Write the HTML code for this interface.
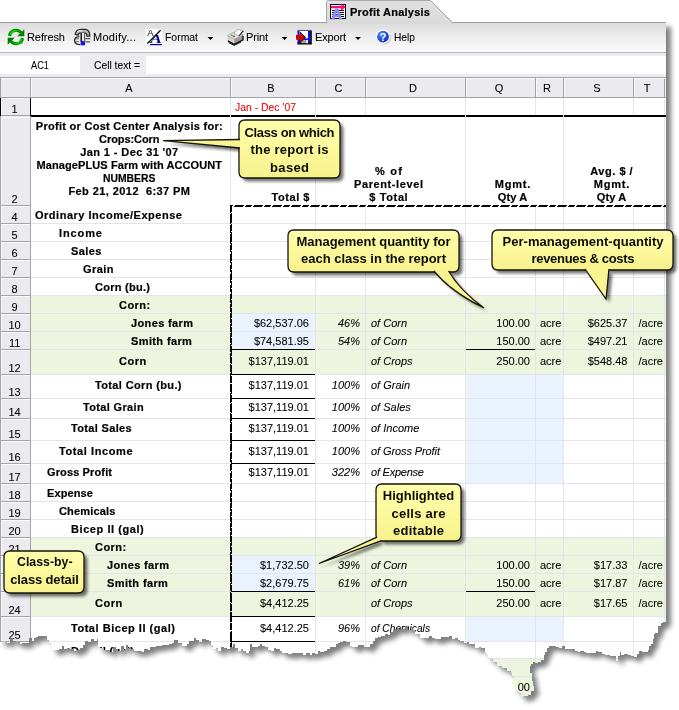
<!DOCTYPE html>
<html><head><meta charset="utf-8"><title>Profit Analysis</title>
<style>
html,body{margin:0;padding:0;background:#fff;}
body{width:679px;height:710px;position:relative;overflow:hidden;font-family:"Liberation Sans",sans-serif;}
.t{position:absolute;white-space:nowrap;color:#000;font-family:"Liberation Sans",sans-serif;-webkit-text-stroke:0.08px currentColor;}
.r{position:absolute;}
.gl{position:absolute;left:0;top:0;width:679px;height:710px;will-change:transform;}
.ov{position:absolute;left:0;top:0;width:679px;height:710px;overflow:visible;}
#win{position:absolute;left:0;top:0;width:666px;height:710px;overflow:hidden;background:#fff;}
#tabline{position:absolute;left:0;top:22px;width:666px;height:1px;background:#9c9ca4;}
#toolbar{position:absolute;left:0;top:23px;width:666px;height:29px;background:linear-gradient(180deg,#dcdcdc 0,#ececec 45%,#fbfbfb 100%);}
#tbline{position:absolute;left:0;top:52px;width:666px;height:1px;background:#b4b4bc;}
#fbar{position:absolute;left:0;top:53px;width:666px;height:24px;background:#ebebf0;}
#fb1{position:absolute;left:0;top:56px;width:80px;height:18px;background:#fff;}
#fb2{position:absolute;left:146px;top:56px;width:520px;height:18px;background:#fff;}
</style></head>
<body>
<div id="win">
<div id="tabline"></div><div id="toolbar"></div><div id="tbline"></div>
<div id="fbar"></div><div id="fb1"></div><div id="fb2"></div>
<svg class="ov" width="679" height="30" viewBox="0 0 679 30" style="height:30px">
<defs><linearGradient id="tg" x1="0" y1="0" x2="0" y2="1"><stop offset="0" stop-color="#e0e0e0"/><stop offset="1" stop-color="#dadada"/></linearGradient></defs>
<path d="M326.5,23 L326.5,2.5 Q326.5,0.5 328.5,0.5 L430.6,0.5 L452.4,22.5 L452.4,23 Z" fill="url(#tg)" stroke="#a8a8ac" stroke-width="1"/>
<rect x="327" y="22" width="125" height="2" fill="#dadada"/>
</svg>
<div class="r" style="left:31px;top:296px;width:635px;height:78px;background:#edf5de;"></div>
<div class="r" style="left:31px;top:538px;width:635px;height:78px;background:#edf5de;"></div>
<div class="r" style="left:31px;top:659px;width:635px;height:60px;background:#edf5de;"></div>
<div class="r" style="left:231px;top:314px;width:84px;height:35px;background:#e9f2fd;"></div>
<div class="r" style="left:466px;top:375px;width:97px;height:108px;background:#e9f2fd;"></div>
<div class="r" style="left:231px;top:556px;width:84px;height:35px;background:#e9f2fd;"></div>
<div class="r" style="left:466px;top:617px;width:97px;height:24px;background:#e9f2fd;"></div>
<div class="r" style="left:31px;top:223px;width:635px;height:1px;background:#e4e4ec;"></div>
<div class="r" style="left:31px;top:241px;width:635px;height:1px;background:#e4e4ec;"></div>
<div class="r" style="left:31px;top:259px;width:635px;height:1px;background:#e4e4ec;"></div>
<div class="r" style="left:31px;top:277px;width:635px;height:1px;background:#e4e4ec;"></div>
<div class="r" style="left:31px;top:295px;width:635px;height:1px;background:#e4e4ec;"></div>
<div class="r" style="left:31px;top:313px;width:635px;height:1px;background:#e4e4ec;"></div>
<div class="r" style="left:31px;top:331px;width:635px;height:1px;background:#e4e4ec;"></div>
<div class="r" style="left:31px;top:349px;width:635px;height:1px;background:#e4e4ec;"></div>
<div class="r" style="left:31px;top:374px;width:635px;height:1px;background:#e4e4ec;"></div>
<div class="r" style="left:31px;top:398px;width:635px;height:1px;background:#e4e4ec;"></div>
<div class="r" style="left:31px;top:418px;width:635px;height:1px;background:#e4e4ec;"></div>
<div class="r" style="left:31px;top:440px;width:635px;height:1px;background:#e4e4ec;"></div>
<div class="r" style="left:31px;top:463px;width:635px;height:1px;background:#e4e4ec;"></div>
<div class="r" style="left:31px;top:483px;width:635px;height:1px;background:#e4e4ec;"></div>
<div class="r" style="left:31px;top:501px;width:635px;height:1px;background:#e4e4ec;"></div>
<div class="r" style="left:31px;top:519px;width:635px;height:1px;background:#e4e4ec;"></div>
<div class="r" style="left:31px;top:537px;width:635px;height:1px;background:#e4e4ec;"></div>
<div class="r" style="left:31px;top:555px;width:635px;height:1px;background:#e4e4ec;"></div>
<div class="r" style="left:31px;top:573px;width:635px;height:1px;background:#e4e4ec;"></div>
<div class="r" style="left:31px;top:591px;width:635px;height:1px;background:#e4e4ec;"></div>
<div class="r" style="left:31px;top:616px;width:635px;height:1px;background:#e4e4ec;"></div>
<div class="r" style="left:31px;top:641px;width:635px;height:1px;background:#e4e4ec;"></div>
<div class="r" style="left:31px;top:658px;width:635px;height:1px;background:#e4e4ec;"></div>
<div class="r" style="left:31px;top:676px;width:635px;height:1px;background:#e4e4ec;"></div>
<div class="r" style="left:31px;top:694px;width:635px;height:1px;background:#e4e4ec;"></div>
<div class="r" style="left:31px;top:712px;width:635px;height:1px;background:#e4e4ec;"></div>
<div class="r" style="left:664px;top:98px;width:1px;height:620px;background:#e4e4ec;"></div>
<div class="r" style="left:0px;top:115px;width:666px;height:2px;background:#000;"></div>
<div class="r" style="left:230px;top:98px;width:1px;height:17px;background:#e4e4ec;"></div>
<div class="r" style="left:230px;top:115px;width:1px;height:90px;background:#e4e4ec;"></div>
<div class="r" style="left:230px;top:207px;width:1px;height:520px;background:#e4e4ec;"></div>
<div class="r" style="left:315px;top:98px;width:1px;height:17px;background:#e4e4ec;"></div>
<div class="r" style="left:315px;top:115px;width:1px;height:90px;background:#e4e4ec;"></div>
<div class="r" style="left:315px;top:207px;width:1px;height:520px;background:#e4e4ec;"></div>
<div class="r" style="left:365px;top:98px;width:1px;height:17px;background:#e4e4ec;"></div>
<div class="r" style="left:365px;top:207px;width:1px;height:520px;background:#e4e4ec;"></div>
<div class="r" style="left:465px;top:98px;width:1px;height:17px;background:#e4e4ec;"></div>
<div class="r" style="left:465px;top:115px;width:1px;height:90px;background:#e4e4ec;"></div>
<div class="r" style="left:465px;top:207px;width:1px;height:520px;background:#e4e4ec;"></div>
<div class="r" style="left:535px;top:98px;width:1px;height:17px;background:#e4e4ec;"></div>
<div class="r" style="left:535px;top:207px;width:1px;height:520px;background:#e4e4ec;"></div>
<div class="r" style="left:563px;top:98px;width:1px;height:17px;background:#e4e4ec;"></div>
<div class="r" style="left:563px;top:115px;width:1px;height:90px;background:#e4e4ec;"></div>
<div class="r" style="left:563px;top:207px;width:1px;height:520px;background:#e4e4ec;"></div>
<div class="r" style="left:633px;top:98px;width:1px;height:17px;background:#e4e4ec;"></div>
<div class="r" style="left:633px;top:207px;width:1px;height:520px;background:#e4e4ec;"></div>
<div class="r" style="left:231px;top:349px;width:84px;height:1px;background:#000;"></div>
<div class="r" style="left:231px;top:374px;width:84px;height:1px;background:#000;"></div>
<div class="r" style="left:231px;top:398px;width:84px;height:1px;background:#000;"></div>
<div class="r" style="left:231px;top:418px;width:84px;height:1px;background:#000;"></div>
<div class="r" style="left:231px;top:440px;width:84px;height:1px;background:#000;"></div>
<div class="r" style="left:231px;top:463px;width:84px;height:1px;background:#000;"></div>
<div class="r" style="left:231px;top:591px;width:84px;height:1px;background:#000;"></div>
<div class="r" style="left:231px;top:616px;width:84px;height:1px;background:#000;"></div>
<div class="r" style="left:231px;top:641px;width:84px;height:1px;background:#000;"></div>
<div class="r" style="left:466px;top:349px;width:69px;height:1px;background:#000;"></div>
<div class="r" style="left:466px;top:591px;width:69px;height:1px;background:#000;"></div>
<div class="r" style="left:230px;top:205px;width:436px;height:1px;background:repeating-linear-gradient(90deg,#000 0,#000 3.4px,transparent 3.4px,transparent 4.7px,#000 4.7px,#000 14.4px,transparent 14.4px,transparent 15.700000000000001px,#000 15.700000000000001px,#000 19px)"></div><div class="r" style="left:230px;top:206px;width:436px;height:1px;background:repeating-linear-gradient(90deg,#000 0,#000 2.4px,transparent 2.4px,transparent 3.7px,#000 3.7px,#000 13.4px,transparent 13.4px,transparent 14.700000000000001px,#000 14.700000000000001px,#000 19px)"></div>
<div class="r" style="left:230px;top:205px;width:1px;height:520px;background:repeating-linear-gradient(180deg,#000 0,#000 7.6px,transparent 7.6px,transparent 8.9px,#000 8.9px,#000 18.6px,transparent 18.6px,transparent 19.900000000000002px,#000 19.900000000000002px,#000 19px)"></div><div class="r" style="left:231px;top:205px;width:1px;height:520px;background:repeating-linear-gradient(180deg,#000 0,#000 6.6px,transparent 6.6px,transparent 7.8999999999999995px,#000 7.8999999999999995px,#000 17.6px,transparent 17.6px,transparent 18.900000000000002px,#000 18.900000000000002px,#000 19px)"></div>
<div class="r" style="left:0px;top:77px;width:666px;height:1px;background:#a3a3a8;"></div>
<div class="r" style="left:0px;top:78px;width:666px;height:19px;background:#eaeaef;"></div>
<div class="r" style="left:0px;top:97px;width:666px;height:1px;background:#a3a3a8;"></div>
<div class="r" style="left:0px;top:77px;width:1px;height:21px;background:#a3a3a8;"></div>
<div class="r" style="left:664px;top:78px;width:1px;height:19px;background:#a3a3a8;"></div>
<div class="r" style="left:1px;top:78px;width:666px;height:1px;background:rgba(255,255,255,.75);"></div>
<div class="r" style="left:30px;top:78px;width:1px;height:19px;background:#a3a3a8;"></div>
<div class="r" style="left:31px;top:78px;width:1px;height:19px;background:rgba(255,255,255,.75);"></div>
<div class="r" style="left:230px;top:78px;width:1px;height:19px;background:#a3a3a8;"></div>
<div class="r" style="left:231px;top:78px;width:1px;height:19px;background:rgba(255,255,255,.75);"></div>
<div class="r" style="left:315px;top:78px;width:1px;height:19px;background:#a3a3a8;"></div>
<div class="r" style="left:316px;top:78px;width:1px;height:19px;background:rgba(255,255,255,.75);"></div>
<div class="r" style="left:365px;top:78px;width:1px;height:19px;background:#a3a3a8;"></div>
<div class="r" style="left:366px;top:78px;width:1px;height:19px;background:rgba(255,255,255,.75);"></div>
<div class="r" style="left:465px;top:78px;width:1px;height:19px;background:#a3a3a8;"></div>
<div class="r" style="left:466px;top:78px;width:1px;height:19px;background:rgba(255,255,255,.75);"></div>
<div class="r" style="left:535px;top:78px;width:1px;height:19px;background:#a3a3a8;"></div>
<div class="r" style="left:536px;top:78px;width:1px;height:19px;background:rgba(255,255,255,.75);"></div>
<div class="r" style="left:563px;top:78px;width:1px;height:19px;background:#a3a3a8;"></div>
<div class="r" style="left:564px;top:78px;width:1px;height:19px;background:rgba(255,255,255,.75);"></div>
<div class="r" style="left:633px;top:78px;width:1px;height:19px;background:#a3a3a8;"></div>
<div class="r" style="left:634px;top:78px;width:1px;height:19px;background:rgba(255,255,255,.75);"></div>
<div class="r" style="left:0px;top:98px;width:30px;height:620px;background:#eaeaef;"></div>
<div class="r" style="left:0px;top:98px;width:1px;height:620px;background:#a3a3a8;"></div>
<div class="r" style="left:30px;top:98px;width:1px;height:620px;background:#a3a3a8;"></div>
<div class="r" style="left:1px;top:98px;width:1px;height:620px;background:rgba(255,255,255,.75);"></div>
<div class="r" style="left:0px;top:115px;width:30px;height:1px;background:#a3a3a8;"></div>
<div class="r" style="left:1px;top:98px;width:29px;height:1px;background:rgba(255,255,255,.75);"></div>
<div class="r" style="left:0px;top:205px;width:30px;height:1px;background:#a3a3a8;"></div>
<div class="r" style="left:1px;top:117px;width:29px;height:1px;background:rgba(255,255,255,.75);"></div>
<div class="r" style="left:0px;top:223px;width:30px;height:1px;background:#a3a3a8;"></div>
<div class="r" style="left:1px;top:206px;width:29px;height:1px;background:rgba(255,255,255,.75);"></div>
<div class="r" style="left:0px;top:241px;width:30px;height:1px;background:#a3a3a8;"></div>
<div class="r" style="left:1px;top:224px;width:29px;height:1px;background:rgba(255,255,255,.75);"></div>
<div class="r" style="left:0px;top:259px;width:30px;height:1px;background:#a3a3a8;"></div>
<div class="r" style="left:1px;top:242px;width:29px;height:1px;background:rgba(255,255,255,.75);"></div>
<div class="r" style="left:0px;top:277px;width:30px;height:1px;background:#a3a3a8;"></div>
<div class="r" style="left:1px;top:260px;width:29px;height:1px;background:rgba(255,255,255,.75);"></div>
<div class="r" style="left:0px;top:295px;width:30px;height:1px;background:#a3a3a8;"></div>
<div class="r" style="left:1px;top:278px;width:29px;height:1px;background:rgba(255,255,255,.75);"></div>
<div class="r" style="left:0px;top:313px;width:30px;height:1px;background:#a3a3a8;"></div>
<div class="r" style="left:1px;top:296px;width:29px;height:1px;background:rgba(255,255,255,.75);"></div>
<div class="r" style="left:0px;top:331px;width:30px;height:1px;background:#a3a3a8;"></div>
<div class="r" style="left:1px;top:314px;width:29px;height:1px;background:rgba(255,255,255,.75);"></div>
<div class="r" style="left:0px;top:349px;width:30px;height:1px;background:#a3a3a8;"></div>
<div class="r" style="left:1px;top:332px;width:29px;height:1px;background:rgba(255,255,255,.75);"></div>
<div class="r" style="left:0px;top:374px;width:30px;height:1px;background:#a3a3a8;"></div>
<div class="r" style="left:1px;top:350px;width:29px;height:1px;background:rgba(255,255,255,.75);"></div>
<div class="r" style="left:0px;top:398px;width:30px;height:1px;background:#a3a3a8;"></div>
<div class="r" style="left:1px;top:375px;width:29px;height:1px;background:rgba(255,255,255,.75);"></div>
<div class="r" style="left:0px;top:418px;width:30px;height:1px;background:#a3a3a8;"></div>
<div class="r" style="left:1px;top:399px;width:29px;height:1px;background:rgba(255,255,255,.75);"></div>
<div class="r" style="left:0px;top:440px;width:30px;height:1px;background:#a3a3a8;"></div>
<div class="r" style="left:1px;top:419px;width:29px;height:1px;background:rgba(255,255,255,.75);"></div>
<div class="r" style="left:0px;top:463px;width:30px;height:1px;background:#a3a3a8;"></div>
<div class="r" style="left:1px;top:441px;width:29px;height:1px;background:rgba(255,255,255,.75);"></div>
<div class="r" style="left:0px;top:483px;width:30px;height:1px;background:#a3a3a8;"></div>
<div class="r" style="left:1px;top:464px;width:29px;height:1px;background:rgba(255,255,255,.75);"></div>
<div class="r" style="left:0px;top:501px;width:30px;height:1px;background:#a3a3a8;"></div>
<div class="r" style="left:1px;top:484px;width:29px;height:1px;background:rgba(255,255,255,.75);"></div>
<div class="r" style="left:0px;top:519px;width:30px;height:1px;background:#a3a3a8;"></div>
<div class="r" style="left:1px;top:502px;width:29px;height:1px;background:rgba(255,255,255,.75);"></div>
<div class="r" style="left:0px;top:537px;width:30px;height:1px;background:#a3a3a8;"></div>
<div class="r" style="left:1px;top:520px;width:29px;height:1px;background:rgba(255,255,255,.75);"></div>
<div class="r" style="left:0px;top:555px;width:30px;height:1px;background:#a3a3a8;"></div>
<div class="r" style="left:1px;top:538px;width:29px;height:1px;background:rgba(255,255,255,.75);"></div>
<div class="r" style="left:0px;top:573px;width:30px;height:1px;background:#a3a3a8;"></div>
<div class="r" style="left:1px;top:556px;width:29px;height:1px;background:rgba(255,255,255,.75);"></div>
<div class="r" style="left:0px;top:591px;width:30px;height:1px;background:#a3a3a8;"></div>
<div class="r" style="left:1px;top:574px;width:29px;height:1px;background:rgba(255,255,255,.75);"></div>
<div class="r" style="left:0px;top:616px;width:30px;height:1px;background:#a3a3a8;"></div>
<div class="r" style="left:1px;top:592px;width:29px;height:1px;background:rgba(255,255,255,.75);"></div>
<div class="r" style="left:0px;top:641px;width:30px;height:1px;background:#a3a3a8;"></div>
<div class="r" style="left:1px;top:617px;width:29px;height:1px;background:rgba(255,255,255,.75);"></div>
<div class="r" style="left:0px;top:658px;width:30px;height:1px;background:#a3a3a8;"></div>
<div class="r" style="left:1px;top:642px;width:29px;height:1px;background:rgba(255,255,255,.75);"></div>
<div class="r" style="left:0px;top:676px;width:30px;height:1px;background:#a3a3a8;"></div>
<div class="r" style="left:1px;top:659px;width:29px;height:1px;background:rgba(255,255,255,.75);"></div>
<div class="r" style="left:0px;top:694px;width:30px;height:1px;background:#a3a3a8;"></div>
<div class="r" style="left:1px;top:677px;width:29px;height:1px;background:rgba(255,255,255,.75);"></div>
<div class="r" style="left:0px;top:712px;width:30px;height:1px;background:#a3a3a8;"></div>
<div class="r" style="left:1px;top:695px;width:29px;height:1px;background:rgba(255,255,255,.75);"></div>
<div class="r" style="left:0px;top:98px;width:1px;height:18px;background:#000;"></div>
<div class="r" style="left:30px;top:98px;width:1px;height:18px;background:#000;"></div>
<div class="gl"><span class="t" style="left:125.13px;top:83px;font-size:11px;line-height:11px;">A</span>
<span class="t" style="left:267.33px;top:83px;font-size:11px;line-height:11px;">B</span>
<span class="t" style="left:334.53px;top:83px;font-size:11px;line-height:11px;">C</span>
<span class="t" style="left:409.03px;top:83px;font-size:11px;line-height:11px;">D</span>
<span class="t" style="left:494.72px;top:83px;font-size:11px;line-height:11px;">Q</span>
<span class="t" style="left:543.03px;top:83px;font-size:11px;line-height:11px;">R</span>
<span class="t" style="left:593.33px;top:83px;font-size:11px;line-height:11px;">S</span>
<span class="t" style="left:643.64px;top:83px;font-size:11px;line-height:11px;">T</span>
<span class="t" style="left:11.54px;top:104px;font-size:11px;line-height:11px;">1</span>
<span class="t" style="left:11.54px;top:194px;font-size:11px;line-height:11px;">2</span>
<span class="t" style="left:11.54px;top:212px;font-size:11px;line-height:11px;">4</span>
<span class="t" style="left:11.54px;top:230px;font-size:11px;line-height:11px;">5</span>
<span class="t" style="left:11.54px;top:248px;font-size:11px;line-height:11px;">6</span>
<span class="t" style="left:11.54px;top:266px;font-size:11px;line-height:11px;">7</span>
<span class="t" style="left:11.54px;top:284px;font-size:11px;line-height:11px;">8</span>
<span class="t" style="left:11.54px;top:302px;font-size:11px;line-height:11px;">9</span>
<span class="t" style="left:8.47px;top:320px;font-size:11px;line-height:11px;">10</span>
<span class="t" style="left:8.88px;top:338px;font-size:11px;line-height:11px;">11</span>
<span class="t" style="left:8.47px;top:363px;font-size:11px;line-height:11px;">12</span>
<span class="t" style="left:8.47px;top:387px;font-size:11px;line-height:11px;">13</span>
<span class="t" style="left:8.47px;top:407px;font-size:11px;line-height:11px;">14</span>
<span class="t" style="left:8.47px;top:429px;font-size:11px;line-height:11px;">15</span>
<span class="t" style="left:8.47px;top:452px;font-size:11px;line-height:11px;">16</span>
<span class="t" style="left:8.47px;top:472px;font-size:11px;line-height:11px;">17</span>
<span class="t" style="left:8.47px;top:490px;font-size:11px;line-height:11px;">18</span>
<span class="t" style="left:8.47px;top:508px;font-size:11px;line-height:11px;">19</span>
<span class="t" style="left:8.47px;top:526px;font-size:11px;line-height:11px;">20</span>
<span class="t" style="left:8.47px;top:544px;font-size:11px;line-height:11px;">21</span>
<span class="t" style="left:8.47px;top:562px;font-size:11px;line-height:11px;">22</span>
<span class="t" style="left:8.47px;top:580px;font-size:11px;line-height:11px;">23</span>
<span class="t" style="left:8.47px;top:605px;font-size:11px;line-height:11px;">24</span>
<span class="t" style="left:8.47px;top:630px;font-size:11px;line-height:11px;">25</span>
<span class="t" style="left:235.00px;top:102px;font-size:11px;line-height:11px;transform:scaleX(0.9457);transform-origin:0 0;color:#f00000;">Jan - Dec '07</span>
<span class="t" style="left:35.80px;top:121px;font-size:11px;line-height:11px;font-weight:bold;-webkit-text-stroke:0.2px currentColor;letter-spacing:0.279px;white-space:pre;">Profit or Cost Center Analysis for:</span>
<span class="t" style="left:99.10px;top:134px;font-size:11px;line-height:11px;font-weight:bold;-webkit-text-stroke:0.2px currentColor;letter-spacing:-0.077px;white-space:pre;">Crops:Corn</span>
<span class="t" style="left:80.30px;top:147px;font-size:11px;line-height:11px;font-weight:bold;-webkit-text-stroke:0.2px currentColor;letter-spacing:0.391px;white-space:pre;">Jan 1 - Dec 31 '07</span>
<span class="t" style="left:36.55px;top:160px;font-size:11px;line-height:11px;font-weight:bold;-webkit-text-stroke:0.2px currentColor;letter-spacing:0.094px;white-space:pre;">ManagePLUS Farm with ACCOUNT</span>
<span class="t" style="left:103.10px;top:173px;font-size:11px;line-height:11px;font-weight:bold;-webkit-text-stroke:0.2px currentColor;transform:scaleX(0.9426);transform-origin:0 0;white-space:pre;">NUMBERS</span>
<span class="t" style="left:68.45px;top:186px;font-size:11px;line-height:11px;font-weight:bold;-webkit-text-stroke:0.2px currentColor;letter-spacing:0.424px;white-space:pre;">Feb 21, 2012  6:37 PM</span>
<span class="t" style="left:271.50px;top:192px;font-size:11px;line-height:11px;font-weight:bold;-webkit-text-stroke:0.2px currentColor;letter-spacing:0.557px;">Total $</span>
<span class="t" style="left:375.00px;top:166px;font-size:11px;line-height:11px;font-weight:bold;-webkit-text-stroke:0.2px currentColor;letter-spacing:1.260px;">% of</span>
<span class="t" style="left:354.00px;top:179px;font-size:11px;line-height:11px;font-weight:bold;-webkit-text-stroke:0.2px currentColor;letter-spacing:0.599px;">Parent-level</span>
<span class="t" style="left:369.30px;top:192px;font-size:11px;line-height:11px;font-weight:bold;-webkit-text-stroke:0.2px currentColor;letter-spacing:0.624px;">$ Total</span>
<span class="t" style="left:494.80px;top:179px;font-size:11px;line-height:11px;font-weight:bold;-webkit-text-stroke:0.2px currentColor;letter-spacing:0.756px;">Mgmt.</span>
<span class="t" style="left:497.80px;top:192px;font-size:11px;line-height:11px;font-weight:bold;-webkit-text-stroke:0.2px currentColor;letter-spacing:0.116px;">Qty A</span>
<span class="t" style="left:590.30px;top:166px;font-size:11px;line-height:11px;font-weight:bold;-webkit-text-stroke:0.2px currentColor;letter-spacing:0.521px;">Avg. $ /</span>
<span class="t" style="left:593.80px;top:179px;font-size:11px;line-height:11px;font-weight:bold;-webkit-text-stroke:0.2px currentColor;letter-spacing:0.756px;">Mgmt.</span>
<span class="t" style="left:596.80px;top:192px;font-size:11px;line-height:11px;font-weight:bold;-webkit-text-stroke:0.2px currentColor;letter-spacing:0.116px;">Qty A</span>
<span class="t" style="left:35.00px;top:210px;font-size:11px;line-height:11px;font-weight:bold;-webkit-text-stroke:0.2px currentColor;letter-spacing:0.509px;">Ordinary Income/Expense</span>
<span class="t" style="left:59.00px;top:228px;font-size:11px;line-height:11px;font-weight:bold;-webkit-text-stroke:0.2px currentColor;letter-spacing:0.894px;">Income</span>
<span class="t" style="left:71.00px;top:246px;font-size:11px;line-height:11px;font-weight:bold;-webkit-text-stroke:0.2px currentColor;letter-spacing:0.432px;">Sales</span>
<span class="t" style="left:83.00px;top:264px;font-size:11px;line-height:11px;font-weight:bold;-webkit-text-stroke:0.2px currentColor;letter-spacing:0.431px;">Grain</span>
<span class="t" style="left:95.00px;top:282px;font-size:11px;line-height:11px;font-weight:bold;-webkit-text-stroke:0.2px currentColor;letter-spacing:0.274px;">Corn (bu.)</span>
<span class="t" style="left:119.00px;top:300px;font-size:11px;line-height:11px;font-weight:bold;-webkit-text-stroke:0.2px currentColor;letter-spacing:0.440px;">Corn:</span>
<span class="t" style="left:131.00px;top:318px;font-size:11px;line-height:11px;font-weight:bold;-webkit-text-stroke:0.2px currentColor;letter-spacing:0.365px;">Jones farm</span>
<span class="t" style="left:131.00px;top:336px;font-size:11px;line-height:11px;font-weight:bold;-webkit-text-stroke:0.2px currentColor;letter-spacing:0.383px;">Smith farm</span>
<span class="t" style="left:119.00px;top:356px;font-size:11px;line-height:11px;font-weight:bold;-webkit-text-stroke:0.2px currentColor;letter-spacing:0.513px;">Corn</span>
<span class="t" style="left:95.00px;top:380px;font-size:11px;line-height:11px;font-weight:bold;-webkit-text-stroke:0.2px currentColor;letter-spacing:0.362px;">Total Corn (bu.)</span>
<span class="t" style="left:83.00px;top:402px;font-size:11px;line-height:11px;font-weight:bold;-webkit-text-stroke:0.2px currentColor;letter-spacing:0.344px;">Total Grain</span>
<span class="t" style="left:71.00px;top:423px;font-size:11px;line-height:11px;font-weight:bold;-webkit-text-stroke:0.2px currentColor;letter-spacing:0.344px;">Total Sales</span>
<span class="t" style="left:59.00px;top:446px;font-size:11px;line-height:11px;font-weight:bold;-webkit-text-stroke:0.2px currentColor;letter-spacing:0.594px;">Total Income</span>
<span class="t" style="left:47.00px;top:467px;font-size:11px;line-height:11px;font-weight:bold;-webkit-text-stroke:0.2px currentColor;letter-spacing:0.128px;">Gross Profit</span>
<span class="t" style="left:47.00px;top:488px;font-size:11px;line-height:11px;font-weight:bold;-webkit-text-stroke:0.2px currentColor;letter-spacing:0.120px;">Expense</span>
<span class="t" style="left:59.00px;top:506px;font-size:11px;line-height:11px;font-weight:bold;-webkit-text-stroke:0.2px currentColor;letter-spacing:0.155px;">Chemicals</span>
<span class="t" style="left:71.00px;top:524px;font-size:11px;line-height:11px;font-weight:bold;-webkit-text-stroke:0.2px currentColor;letter-spacing:0.566px;">Bicep II (gal)</span>
<span class="t" style="left:95.00px;top:542px;font-size:11px;line-height:11px;font-weight:bold;-webkit-text-stroke:0.2px currentColor;letter-spacing:0.440px;">Corn:</span>
<span class="t" style="left:107.00px;top:560px;font-size:11px;line-height:11px;font-weight:bold;-webkit-text-stroke:0.2px currentColor;letter-spacing:0.365px;">Jones farm</span>
<span class="t" style="left:107.00px;top:578px;font-size:11px;line-height:11px;font-weight:bold;-webkit-text-stroke:0.2px currentColor;letter-spacing:0.383px;">Smith farm</span>
<span class="t" style="left:95.00px;top:598px;font-size:11px;line-height:11px;font-weight:bold;-webkit-text-stroke:0.2px currentColor;letter-spacing:0.513px;">Corn</span>
<span class="t" style="left:71.00px;top:623px;font-size:11px;line-height:11px;font-weight:bold;-webkit-text-stroke:0.2px currentColor;letter-spacing:0.528px;">Total Bicep II (gal)</span>
<span class="t" style="left:253.88px;top:318px;font-size:11px;line-height:11px;">$62,537.06</span>
<span class="t" style="left:253.88px;top:336px;font-size:11px;line-height:11px;">$74,581.95</span>
<span class="t" style="left:248.56px;top:356px;font-size:11px;line-height:11px;">$137,119.01</span>
<span class="t" style="left:248.56px;top:380px;font-size:11px;line-height:11px;">$137,119.01</span>
<span class="t" style="left:248.56px;top:402px;font-size:11px;line-height:11px;">$137,119.01</span>
<span class="t" style="left:248.56px;top:423px;font-size:11px;line-height:11px;">$137,119.01</span>
<span class="t" style="left:248.56px;top:446px;font-size:11px;line-height:11px;">$137,119.01</span>
<span class="t" style="left:248.56px;top:467px;font-size:11px;line-height:11px;">$137,119.01</span>
<span class="t" style="left:260.00px;top:560px;font-size:11px;line-height:11px;">$1,732.50</span>
<span class="t" style="left:260.00px;top:578px;font-size:11px;line-height:11px;">$2,679.75</span>
<span class="t" style="left:260.00px;top:598px;font-size:11px;line-height:11px;">$4,412.25</span>
<span class="t" style="left:260.00px;top:623px;font-size:11px;line-height:11px;">$4,412.25</span>
<span class="t" style="left:337.97px;top:318px;font-size:11px;line-height:11px;font-style:italic;">46%</span>
<span class="t" style="left:337.97px;top:336px;font-size:11px;line-height:11px;font-style:italic;">54%</span>
<span class="t" style="left:331.84px;top:380px;font-size:11px;line-height:11px;font-style:italic;">100%</span>
<span class="t" style="left:331.84px;top:402px;font-size:11px;line-height:11px;font-style:italic;">100%</span>
<span class="t" style="left:331.84px;top:423px;font-size:11px;line-height:11px;font-style:italic;">100%</span>
<span class="t" style="left:331.84px;top:446px;font-size:11px;line-height:11px;font-style:italic;">100%</span>
<span class="t" style="left:331.84px;top:467px;font-size:11px;line-height:11px;font-style:italic;">322%</span>
<span class="t" style="left:337.97px;top:560px;font-size:11px;line-height:11px;font-style:italic;">39%</span>
<span class="t" style="left:337.97px;top:578px;font-size:11px;line-height:11px;font-style:italic;">61%</span>
<span class="t" style="left:337.97px;top:623px;font-size:11px;line-height:11px;font-style:italic;">96%</span>
<span class="t" style="left:371.00px;top:318px;font-size:11px;line-height:11px;font-style:italic;">of Corn</span>
<span class="t" style="left:371.00px;top:336px;font-size:11px;line-height:11px;font-style:italic;">of Corn</span>
<span class="t" style="left:371.00px;top:356px;font-size:11px;line-height:11px;font-style:italic;">of Crops</span>
<span class="t" style="left:371.00px;top:380px;font-size:11px;line-height:11px;font-style:italic;">of Grain</span>
<span class="t" style="left:371.00px;top:402px;font-size:11px;line-height:11px;font-style:italic;">of Sales</span>
<span class="t" style="left:371.00px;top:423px;font-size:11px;line-height:11px;font-style:italic;">of Income</span>
<span class="t" style="left:371.00px;top:446px;font-size:11px;line-height:11px;font-style:italic;letter-spacing:-0.096px;">of Gross Profit</span>
<span class="t" style="left:371.00px;top:467px;font-size:11px;line-height:11px;font-style:italic;letter-spacing:-0.233px;">of Expense</span>
<span class="t" style="left:371.00px;top:560px;font-size:11px;line-height:11px;font-style:italic;">of Corn</span>
<span class="t" style="left:371.00px;top:578px;font-size:11px;line-height:11px;font-style:italic;">of Corn</span>
<span class="t" style="left:371.00px;top:598px;font-size:11px;line-height:11px;font-style:italic;">of Crops</span>
<span class="t" style="left:371.00px;top:623px;font-size:11px;line-height:11px;font-style:italic;transform:scaleX(0.9278);transform-origin:0 0;">of Chemicals</span>
<span class="t" style="left:496.31px;top:318px;font-size:11px;line-height:11px;">100.00</span>
<span class="t" style="left:540.00px;top:318px;font-size:11px;line-height:11px;">acre</span>
<span class="t" style="left:638.50px;top:318px;font-size:11px;line-height:11px;">/acre</span>
<span class="t" style="left:496.31px;top:336px;font-size:11px;line-height:11px;">150.00</span>
<span class="t" style="left:540.00px;top:336px;font-size:11px;line-height:11px;">acre</span>
<span class="t" style="left:638.50px;top:336px;font-size:11px;line-height:11px;">/acre</span>
<span class="t" style="left:496.31px;top:356px;font-size:11px;line-height:11px;">250.00</span>
<span class="t" style="left:540.00px;top:356px;font-size:11px;line-height:11px;">acre</span>
<span class="t" style="left:638.50px;top:356px;font-size:11px;line-height:11px;">/acre</span>
<span class="t" style="left:496.31px;top:560px;font-size:11px;line-height:11px;">100.00</span>
<span class="t" style="left:540.00px;top:560px;font-size:11px;line-height:11px;">acre</span>
<span class="t" style="left:638.50px;top:560px;font-size:11px;line-height:11px;">/acre</span>
<span class="t" style="left:496.31px;top:578px;font-size:11px;line-height:11px;">150.00</span>
<span class="t" style="left:540.00px;top:578px;font-size:11px;line-height:11px;">acre</span>
<span class="t" style="left:638.50px;top:578px;font-size:11px;line-height:11px;">/acre</span>
<span class="t" style="left:496.31px;top:598px;font-size:11px;line-height:11px;">250.00</span>
<span class="t" style="left:540.00px;top:598px;font-size:11px;line-height:11px;">acre</span>
<span class="t" style="left:638.50px;top:598px;font-size:11px;line-height:11px;">/acre</span>
<span class="t" style="left:587.69px;top:318px;font-size:11px;line-height:11px;">$625.37</span>
<span class="t" style="left:587.69px;top:336px;font-size:11px;line-height:11px;">$497.21</span>
<span class="t" style="left:587.69px;top:356px;font-size:11px;line-height:11px;">$548.48</span>
<span class="t" style="left:593.81px;top:560px;font-size:11px;line-height:11px;">$17.33</span>
<span class="t" style="left:593.81px;top:578px;font-size:11px;line-height:11px;">$17.87</span>
<span class="t" style="left:593.81px;top:598px;font-size:11px;line-height:11px;">$17.65</span>
<span class="t" style="left:517.75px;top:682px;font-size:11px;line-height:11px;">00</span>
<span class="t" style="left:71.00px;top:646px;font-size:11px;line-height:11px;font-weight:bold;-webkit-text-stroke:0.2px currentColor;letter-spacing:0.297px;">Dual II (gal)</span>
<span class="t" style="left:27.00px;top:32px;font-size:11px;line-height:11px;letter-spacing:-0.089px;">Refresh</span>
<span class="t" style="left:93.00px;top:32px;font-size:11px;line-height:11px;letter-spacing:0.277px;">Modify...</span>
<span class="t" style="left:165.00px;top:32px;font-size:11px;line-height:11px;transform:scaleX(0.9471);transform-origin:0 0;">Format</span>
<span class="t" style="left:246.00px;top:32px;font-size:11px;line-height:11px;letter-spacing:-0.156px;">Print</span>
<span class="t" style="left:315.00px;top:32px;font-size:11px;line-height:11px;letter-spacing:-0.163px;">Export</span>
<span class="t" style="left:394.00px;top:32px;font-size:11px;line-height:11px;transform:scaleX(0.9282);transform-origin:0 0;">Help</span>
<span class="t" style="left:30.50px;top:60px;font-size:11px;line-height:11px;transform:scaleX(0.8409);transform-origin:0 0;">AC1</span>
<span class="t" style="left:94.00px;top:60px;font-size:11px;line-height:11px;transform:scaleX(0.9343);transform-origin:0 0;">Cell text =</span>
<span class="t" style="left:350.00px;top:7px;font-size:11px;line-height:11px;font-weight:bold;-webkit-text-stroke:0.2px currentColor;letter-spacing:0.239px;">Profit Analysis</span></div>
<div class="gl">
<svg class="ov" width="679" height="60" viewBox="0 0 679 60" style="height:60px">
<defs><radialGradient id="hg" cx="0.35" cy="0.3" r="0.8"><stop offset="0" stop-color="#5a96ff"/><stop offset="0.55" stop-color="#2456dc"/><stop offset="1" stop-color="#0c2a9c"/></radialGradient></defs>
<!-- refresh -->
<g fill="none" stroke-linecap="butt">
<path d="M9.6,36 C10,31.2 14,30 17,30.4 C19,30.7 20.2,31.6 21.2,32.8" stroke="#009400" stroke-width="3.2"/>
<path d="M10.4,34.5 C11.2,31.6 14.2,30.6 17,31" stroke="#00e400" stroke-width="1.1"/>
<path d="M22.4,38 C22,42.8 18,44 15,43.6 C13,43.3 11.8,42.4 10.8,41.2" stroke="#009400" stroke-width="3.2"/>
<path d="M21.6,39.5 C20.8,42.4 17.8,43.4 15,43" stroke="#00e400" stroke-width="1.1"/>
</g>
<path d="M24.3,29.2 L24.3,36.3 L17.2,36.3 Z" fill="#007c00"/><path d="M7.7,44.8 L7.7,37.7 L14.8,37.7 Z" fill="#007c00"/>
<!-- modify -->
<g>
<path d="M75.2,34.4 Q75.6,29.6 81,29.4 L85.6,29.4 Q90,30 89.8,36.2 L86.8,36.2 Q87.2,33 84.6,33 L80.4,33 Q78,33.4 78.2,35.2 Z" fill="#b4b4b4" stroke="#262626" stroke-width="1.2"/>
<path d="M77,31.8 Q79,30.5 82.4,30.7" stroke="#fff" stroke-width="1" fill="none"/>
<rect x="80.6" y="33" width="4" height="9" fill="#ececec"/><path d="M81.2,33 v9" stroke="#181818" stroke-width="1.5"/><path d="M84.6,33 v9" stroke="#4a4a4a" stroke-width="1"/>
<path d="M79.4,36.6 Q74.6,36.8 74.6,40.6 Q75,44.6 80.2,44.6" fill="none" stroke="#2c2c2c" stroke-width="1.4"/>
<path d="M75.4,38.8 h3.6 M75.6,41.4 h3.2" stroke="#666" stroke-width="1"/>
<path d="M85.2,38.6 h5 M85.2,41.8 h5" stroke="#555" stroke-width="1.3"/>
<path d="M80.6,45.2 L80.6,42.6 L82.8,40.8 L85,42.6 L85,45.2 Z" fill="#0a0af4"/>
</g>
<!-- format -->
<g><rect x="146" y="29" width="16.4" height="16.8" fill="#fff"/>
<path d="M147.2,43.6 L160.6,30.2" stroke="#000" stroke-width="1.3"/>
<text x="147.2" y="36" font-family="Liberation Sans" font-size="9.5" fill="#000">A</text>
<text x="150" y="42.8" font-family="Liberation Serif" font-weight="bold" font-style="italic" font-size="13.5" fill="#00008c" textLength="12" lengthAdjust="spacingAndGlyphs">A</text>
<rect x="150" y="44" width="12" height="1.2" fill="#00008c"/></g>
<!-- print -->
<g>
<path d="M227.5,35.6 L233.4,32.2 L243,35 L243,39.4 L234.2,44 L227.5,40.4 Z" fill="#d4d4d4"/>
<path d="M234.2,39.2 L243,34.8 L243,39.4 L234.2,44 Z" fill="#9c9c9c"/>
<path d="M227.5,35.6 L233.4,32.2 L243,35 L234.2,39.2 Z" fill="#ececec" stroke="#8c8c8c" stroke-width=".6"/>
<path d="M233.6,33.4 L238.2,29.3 L243.2,31 L239,36 Z" fill="#fff" stroke="#8a8a8a" stroke-width=".7"/>
<path d="M239,36 L242.6,31.4 L243.6,31.2" fill="none" stroke="#222" stroke-width="1.1"/>
<path d="M227.8,40.8 L234.2,44.4 L243,39.8 L243,36" fill="none" stroke="#111" stroke-width="1.4"/>
<path d="M228.6,42.6 L234.2,45.4 L241,42" fill="none" stroke="#111" stroke-width="1"/>
<rect x="230.6" y="34.6" width="2.2" height="1.5" fill="#18d030"/><rect x="232.8" y="35.6" width="2.2" height="1.5" fill="#f01818"/></g>
<!-- export -->
<g><rect x="297.5" y="30.7" width="13" height="12.6" fill="#0a0aff"/>
<path d="M297.5,30.4 L310.8,30.4" stroke="#555" stroke-width="1"/>
<path d="M311,30.5 L311,43.6 L297.4,43.6" fill="none" stroke="#000" stroke-width="1.6"/>
<rect x="299.6" y="31" width="8.4" height="7.4" fill="#fff"/><rect x="301" y="40" width="7" height="3.2" fill="#a4a4a4"/><rect x="306.4" y="40" width="1.6" height="3.2" fill="#f4f4f4"/>
<path d="M296,35 L300,35 L300,32 L305.6,37.4 L300,43 L300,39.8 L296,39.8 Z" fill="#c80000"/>
<path d="M300,32 L305.6,37.4 L300,43" fill="none" stroke="#000" stroke-width=".9"/></g>
<!-- help -->
<g><circle cx="384" cy="37.6" r="7" fill="#9a9aa2" opacity=".55"/><circle cx="383" cy="36.6" r="7.3" fill="#fcfcff"/><circle cx="383" cy="36.6" r="5.9" fill="url(#hg)"/>
<text x="383.1" y="40.6" text-anchor="middle" font-family="Liberation Sans" font-weight="bold" font-size="11" fill="#fff">?</text></g>
<!-- dropdown arrows -->
<g fill="#000"><path d="M207.6,36.9 L213.4,36.9 L210.5,40.1 Z"/><path d="M281.7,36.9 L287.5,36.9 L284.6,40.1 Z"/><path d="M355.1,36.9 L360.9,36.9 L358,40.1 Z"/></g>
<!-- tab icon -->
<g><rect x="330.5" y="4.5" width="15" height="14" fill="#fff" stroke="#000" stroke-width="1"/>
<path d="M332,10.5 h12 M332,12.5 h12 M332,14.5 h12 M332,16.5 h12" stroke="#000" stroke-width="1"/>
<rect x="331" y="6" width="11" height="2.3" fill="#ff0a78"/><path d="M341,3.4 L346,7.1 L341,10.8 Z" fill="#ff0a78"/>
<text x="336.8" y="19.2" text-anchor="middle" font-family="Liberation Sans" font-weight="bold" font-size="14.5" fill="#8c8cff" stroke="#8c8cff" stroke-width="0.9">A</text></g>
</svg></div>
</div>
<svg class="ov" width="679" height="710" viewBox="0 0 679 710">
<defs><clipPath id="oc"><path d="M-50,-50 L760,-50 L760,760 L-50,760 Z M0,-20 H666 V614 V618 V619 V622 H663 V623 H661 V626 H658 V628 V633 H655 V634 H654 V639 H653 V642 V644 H651 V646 H649 V650 H648 V652 H645 H642 V651 H639 V654 H637 V657 H634 V656 H631 V655 H628 V654 H624 V655 H621 V652 H620 V656 H618 V657 V661 H616 V659 V656 H613 H610 V655 H608 H605 V654 H602 V652 H598 V651 H596 V653 H593 H590 H586 V652 H584 V651 H580 V652 H578 V651 H575 V649 H571 H568 H565 V646 H562 V648 H559 V647 H556 V646 H554 H551 H549 V648 H547 V652 H545 V654 V655 H544 V660 H541 V662 H538 V663 H535 V662 H533 V664 H531 V666 H530 V670 V673 H532 V674 V678 V682 V681 H533 V686 H534 V688 V691 H531 V695 H528 V696 H526 H523 V697 H521 V693 H519 V691 H517 V690 H515 V685 H513 V684 H512 V682 H513 V678 H514 V676 H512 V673 H511 V671 H507 V668 H505 H502 V666 H499 H497 V662 H495 H493 V659 H491 V658 H488 V655 H487 V653 H485 V648 H484 H481 V647 H479 V648 H475 V644 H473 H469 V642 H467 V643 H464 V641 H460 V640 H458 V638 H455 V639 H452 V636 H449 V637 H446 H443 H441 V639 H437 H435 V638 H432 V636 H429 V638 H426 H422 H420 V634 H418 H415 V630 H413 V629 H411 V630 H408 V626 H405 V629 H402 H399 V628 H397 V629 H395 V631 H393 V632 H390 V635 H388 V634 H385 V636 H381 V637 H378 V638 H375 V641 H373 V644 H371 H370 V647 H367 H364 V645 H361 H358 V647 H355 H352 V646 H350 V642 H346 V641 H343 V642 H340 V643 H338 V644 H336 V647 H332 H330 V649 H327 V651 H324 V652 H320 V651 H318 V654 H315 V653 H312 V655 H310 V653 H306 V655 H303 V653 H300 H297 H294 H292 V654 H288 V653 H285 H282 V651 H280 V649 H276 V648 H274 V651 H271 V650 H268 V647 H265 V646 H262 V644 H260 V646 H258 V647 H255 H252 V644 H250 V646 V651 H249 V653 H246 V651 H243 V649 H241 V651 H238 V648 H235 V644 H233 V647 H230 V649 H227 V648 H224 V647 H221 V651 H218 V648 H216 V649 H213 V645 H211 V641 H209 V640 H206 V639 H202 V642 H199 V640 H196 V638 H194 V641 H191 H189 V644 H187 V646 H185 H182 V643 H178 V640 H174 V643 H172 V644 H169 V645 H165 H162 V646 H158 H156 V647 H153 H150 V650 H148 V649 H144 V652 H142 V651 H140 H136 H134 V649 H131 V648 H128 V645 H126 V650 H124 V646 H121 V651 H118 V649 H116 V647 H113 V652 H110 V650 H107 H104 V648 H101 H100 V647 H98 V639 H97 V641 H94 V639 H91 V642 H88 V641 H85 V645 H83 V648 H80 V650 H77 V651 H73 V649 H70 V648 H67 V649 H64 V646 H62 V649 H59 V650 H56 H52 V647 H51 V643 H49 V640 H47 V636 H42 H38 V637 H36 V638 H34 V641 H32 V638 H29 V643 H27 H22 V644 H20 V642 H16 V641 H13 V638 H10 V643 H7 V641 H3 V642 H0 H0 V-20 Z" clip-rule="evenodd"/></clipPath>
<filter id="bl" x="-5%" y="-5%" width="110%" height="110%"><feGaussianBlur stdDeviation="2.6"/></filter></defs>
<path d="M-50,-50 L760,-50 L760,760 L-50,760 Z M0,-20 H666 V614 V618 V619 V622 H663 V623 H661 V626 H658 V628 V633 H655 V634 H654 V639 H653 V642 V644 H651 V646 H649 V650 H648 V652 H645 H642 V651 H639 V654 H637 V657 H634 V656 H631 V655 H628 V654 H624 V655 H621 V652 H620 V656 H618 V657 V661 H616 V659 V656 H613 H610 V655 H608 H605 V654 H602 V652 H598 V651 H596 V653 H593 H590 H586 V652 H584 V651 H580 V652 H578 V651 H575 V649 H571 H568 H565 V646 H562 V648 H559 V647 H556 V646 H554 H551 H549 V648 H547 V652 H545 V654 V655 H544 V660 H541 V662 H538 V663 H535 V662 H533 V664 H531 V666 H530 V670 V673 H532 V674 V678 V682 V681 H533 V686 H534 V688 V691 H531 V695 H528 V696 H526 H523 V697 H521 V693 H519 V691 H517 V690 H515 V685 H513 V684 H512 V682 H513 V678 H514 V676 H512 V673 H511 V671 H507 V668 H505 H502 V666 H499 H497 V662 H495 H493 V659 H491 V658 H488 V655 H487 V653 H485 V648 H484 H481 V647 H479 V648 H475 V644 H473 H469 V642 H467 V643 H464 V641 H460 V640 H458 V638 H455 V639 H452 V636 H449 V637 H446 H443 H441 V639 H437 H435 V638 H432 V636 H429 V638 H426 H422 H420 V634 H418 H415 V630 H413 V629 H411 V630 H408 V626 H405 V629 H402 H399 V628 H397 V629 H395 V631 H393 V632 H390 V635 H388 V634 H385 V636 H381 V637 H378 V638 H375 V641 H373 V644 H371 H370 V647 H367 H364 V645 H361 H358 V647 H355 H352 V646 H350 V642 H346 V641 H343 V642 H340 V643 H338 V644 H336 V647 H332 H330 V649 H327 V651 H324 V652 H320 V651 H318 V654 H315 V653 H312 V655 H310 V653 H306 V655 H303 V653 H300 H297 H294 H292 V654 H288 V653 H285 H282 V651 H280 V649 H276 V648 H274 V651 H271 V650 H268 V647 H265 V646 H262 V644 H260 V646 H258 V647 H255 H252 V644 H250 V646 V651 H249 V653 H246 V651 H243 V649 H241 V651 H238 V648 H235 V644 H233 V647 H230 V649 H227 V648 H224 V647 H221 V651 H218 V648 H216 V649 H213 V645 H211 V641 H209 V640 H206 V639 H202 V642 H199 V640 H196 V638 H194 V641 H191 H189 V644 H187 V646 H185 H182 V643 H178 V640 H174 V643 H172 V644 H169 V645 H165 H162 V646 H158 H156 V647 H153 H150 V650 H148 V649 H144 V652 H142 V651 H140 H136 H134 V649 H131 V648 H128 V645 H126 V650 H124 V646 H121 V651 H118 V649 H116 V647 H113 V652 H110 V650 H107 H104 V648 H101 H100 V647 H98 V639 H97 V641 H94 V639 H91 V642 H88 V641 H85 V645 H83 V648 H80 V650 H77 V651 H73 V649 H70 V648 H67 V649 H64 V646 H62 V649 H59 V650 H56 H52 V647 H51 V643 H49 V640 H47 V636 H42 H38 V637 H36 V638 H34 V641 H32 V638 H29 V643 H27 H22 V644 H20 V642 H16 V641 H13 V638 H10 V643 H7 V641 H3 V642 H0 H0 V-20 Z" fill="#fff" fill-rule="evenodd" shape-rendering="crispEdges"/>
<g clip-path="url(#oc)"><path d="M0,22 H666 V614 V618 V619 V622 H663 V623 H661 V626 H658 V628 V633 H655 V634 H654 V639 H653 V642 V644 H651 V646 H649 V650 H648 V652 H645 H642 V651 H639 V654 H637 V657 H634 V656 H631 V655 H628 V654 H624 V655 H621 V652 H620 V656 H618 V657 V661 H616 V659 V656 H613 H610 V655 H608 H605 V654 H602 V652 H598 V651 H596 V653 H593 H590 H586 V652 H584 V651 H580 V652 H578 V651 H575 V649 H571 H568 H565 V646 H562 V648 H559 V647 H556 V646 H554 H551 H549 V648 H547 V652 H545 V654 V655 H544 V660 H541 V662 H538 V663 H535 V662 H533 V664 H531 V666 H530 V670 V673 H532 V674 V678 V682 V681 H533 V686 H534 V688 V691 H531 V695 H528 V696 H526 H523 V697 H521 V693 H519 V691 H517 V690 H515 V685 H513 V684 H512 V682 H513 V678 H514 V676 H512 V673 H511 V671 H507 V668 H505 H502 V666 H499 H497 V662 H495 H493 V659 H491 V658 H488 V655 H487 V653 H485 V648 H484 H481 V647 H479 V648 H475 V644 H473 H469 V642 H467 V643 H464 V641 H460 V640 H458 V638 H455 V639 H452 V636 H449 V637 H446 H443 H441 V639 H437 H435 V638 H432 V636 H429 V638 H426 H422 H420 V634 H418 H415 V630 H413 V629 H411 V630 H408 V626 H405 V629 H402 H399 V628 H397 V629 H395 V631 H393 V632 H390 V635 H388 V634 H385 V636 H381 V637 H378 V638 H375 V641 H373 V644 H371 H370 V647 H367 H364 V645 H361 H358 V647 H355 H352 V646 H350 V642 H346 V641 H343 V642 H340 V643 H338 V644 H336 V647 H332 H330 V649 H327 V651 H324 V652 H320 V651 H318 V654 H315 V653 H312 V655 H310 V653 H306 V655 H303 V653 H300 H297 H294 H292 V654 H288 V653 H285 H282 V651 H280 V649 H276 V648 H274 V651 H271 V650 H268 V647 H265 V646 H262 V644 H260 V646 H258 V647 H255 H252 V644 H250 V646 V651 H249 V653 H246 V651 H243 V649 H241 V651 H238 V648 H235 V644 H233 V647 H230 V649 H227 V648 H224 V647 H221 V651 H218 V648 H216 V649 H213 V645 H211 V641 H209 V640 H206 V639 H202 V642 H199 V640 H196 V638 H194 V641 H191 H189 V644 H187 V646 H185 H182 V643 H178 V640 H174 V643 H172 V644 H169 V645 H165 H162 V646 H158 H156 V647 H153 H150 V650 H148 V649 H144 V652 H142 V651 H140 H136 H134 V649 H131 V648 H128 V645 H126 V650 H124 V646 H121 V651 H118 V649 H116 V647 H113 V652 H110 V650 H107 H104 V648 H101 H100 V647 H98 V639 H97 V641 H94 V639 H91 V642 H88 V641 H85 V645 H83 V648 H80 V650 H77 V651 H73 V649 H70 V648 H67 V649 H64 V646 H62 V649 H59 V650 H56 H52 V647 H51 V643 H49 V640 H47 V636 H42 H38 V637 H36 V638 H34 V641 H32 V638 H29 V643 H27 H22 V644 H20 V642 H16 V641 H13 V638 H10 V643 H7 V641 H3 V642 H0 H0 V22 Z" fill="#000" opacity="0.5" filter="url(#bl)" transform="translate(5,5)"/></g>
</svg>
<svg class="ov" width="679" height="710" viewBox="0 0 679 710"><defs><linearGradient id="yg" x1="0" y1="0" x2="0" y2="1"><stop offset="0" stop-color="#ffffac"/><stop offset="1" stop-color="#f8f28c"/></linearGradient><filter id="cs" x="-10%" y="-20%" width="125%" height="150%"><feGaussianBlur stdDeviation="1.6"/></filter></defs><path d="M245,120 L334,120 Q340,120 340,126 L340,172 Q340,178 334,178 L245,178 Q239,178 239,172 L239,126 Q239,120 245,120 Z M240,139.5 L163,140.6 L240,148 Z" fill="#000" opacity="0.55" filter="url(#cs)" transform="translate(3.5,3.5)"/><path d="M245,120 L334,120 Q340,120 340,126 L340,172 Q340,178 334,178 L245,178 Q239,178 239,172 L239,126 Q239,120 245,120 Z" fill="url(#yg)" stroke="#15150a" stroke-width="1.3"/><path d="M240,139.5 L163,140.6 L240,148 Z" fill="#f9f492" stroke="none"/><path d="M240,139.5 L163,140.6 L240,148" fill="none" stroke="#15150a" stroke-width="1.3" stroke-linejoin="miter" stroke-miterlimit="10"/><path d="M294,230 L453,230 Q459,230 459,236 L459,266 Q459,272 453,272 L294,272 Q288,272 288,266 L288,236 Q288,230 294,230 Z M434,271 Q450,291 484,308 Q460,290.5 448.5,271 Z" fill="#000" opacity="0.55" filter="url(#cs)" transform="translate(3.5,3.5)"/><path d="M294,230 L453,230 Q459,230 459,236 L459,266 Q459,272 453,272 L294,272 Q288,272 288,266 L288,236 Q288,230 294,230 Z" fill="url(#yg)" stroke="#15150a" stroke-width="1.3"/><path d="M434,271 Q450,291 484,308 Q460,290.5 448.5,271 Z" fill="#f9f492" stroke="none"/><path d="M434,271 Q450,291 484,308 Q460,290.5 448.5,271" fill="none" stroke="#15150a" stroke-width="1.3" stroke-linejoin="miter" stroke-miterlimit="10"/><path d="M498,230 L667,230 Q673,230 673,236 L673,264 Q673,270 667,270 L498,270 Q492,270 492,264 L492,236 Q492,230 498,230 Z M585,269 L606,299 L609,269 Z" fill="#000" opacity="0.55" filter="url(#cs)" transform="translate(3.5,3.5)"/><path d="M498,230 L667,230 Q673,230 673,236 L673,264 Q673,270 667,270 L498,270 Q492,270 492,264 L492,236 Q492,230 498,230 Z" fill="url(#yg)" stroke="#15150a" stroke-width="1.3"/><path d="M585,269 L606,299 L609,269 Z" fill="#f9f492" stroke="none"/><path d="M585,269 L606,299 L609,269" fill="none" stroke="#15150a" stroke-width="1.3" stroke-linejoin="miter" stroke-miterlimit="10"/><path d="M382,484 L455,484 Q461,484 461,490 L461,535 Q461,541 455,541 L382,541 Q376,541 376,535 L376,490 Q376,484 382,484 Z M377,537.2 L319,563.5 L381.6,540.6 Z" fill="#000" opacity="0.55" filter="url(#cs)" transform="translate(3.5,3.5)"/><path d="M382,484 L455,484 Q461,484 461,490 L461,535 Q461,541 455,541 L382,541 Q376,541 376,535 L376,490 Q376,484 382,484 Z" fill="url(#yg)" stroke="#15150a" stroke-width="1.3"/><path d="M377,537.2 L319,563.5 L381.6,540.6 Z" fill="#f9f492" stroke="none"/><path d="M377,537.2 L319,563.5 L381.6,540.6" fill="none" stroke="#15150a" stroke-width="1.3" stroke-linejoin="miter" stroke-miterlimit="10"/><path d="M10,551 L78,551 Q84,551 84,557 L84,587 Q84,593 78,593 L10,593 Q4,593 4,587 L4,557 Q4,551 10,551 Z" fill="#000" opacity="0.55" filter="url(#cs)" transform="translate(3.5,3.5)"/><path d="M10,551 L78,551 Q84,551 84,557 L84,587 Q84,593 78,593 L10,593 Q4,593 4,587 L4,557 Q4,551 10,551 Z" fill="url(#yg)" stroke="#15150a" stroke-width="1.3"/></svg>
<div class="gl"><span class="t" style="left:244.50px;top:126px;font-size:13px;line-height:13px;font-weight:bold;-webkit-text-stroke:0.2px currentColor;letter-spacing:-0.356px;color:#0c0c00;-webkit-text-stroke:0;">Class on which</span>
<span class="t" style="left:250.44px;top:143px;font-size:13px;line-height:13px;font-weight:bold;-webkit-text-stroke:0.2px currentColor;letter-spacing:0.250px;color:#0c0c00;-webkit-text-stroke:0;">the report is</span>
<span class="t" style="left:269.96px;top:161px;font-size:13px;line-height:13px;font-weight:bold;-webkit-text-stroke:0.2px currentColor;letter-spacing:0.376px;color:#0c0c00;-webkit-text-stroke:0;">based</span>
<span class="t" style="left:296.50px;top:235px;font-size:13px;line-height:13px;font-weight:bold;-webkit-text-stroke:0.2px currentColor;letter-spacing:-0.026px;color:#0c0c00;-webkit-text-stroke:0;">Management quantity for</span>
<span class="t" style="left:301.00px;top:252px;font-size:13px;line-height:13px;font-weight:bold;-webkit-text-stroke:0.2px currentColor;letter-spacing:-0.010px;color:#0c0c00;-webkit-text-stroke:0;">each class in the report</span>
<span class="t" style="left:502.50px;top:235px;font-size:13px;line-height:13px;font-weight:bold;-webkit-text-stroke:0.2px currentColor;letter-spacing:0.028px;color:#0c0c00;-webkit-text-stroke:0;">Per-management-quantity</span>
<span class="t" style="left:531.50px;top:252px;font-size:13px;line-height:13px;font-weight:bold;-webkit-text-stroke:0.2px currentColor;letter-spacing:-0.312px;color:#0c0c00;-webkit-text-stroke:0;">revenues &amp; costs</span>
<span class="t" style="left:382.75px;top:489px;font-size:13px;line-height:13px;font-weight:bold;-webkit-text-stroke:0.2px currentColor;color:#0c0c00;-webkit-text-stroke:0;">Highlighted</span>
<span class="t" style="left:391.43px;top:507px;font-size:13px;line-height:13px;font-weight:bold;-webkit-text-stroke:0.2px currentColor;letter-spacing:0.260px;color:#0c0c00;-webkit-text-stroke:0;">cells are</span>
<span class="t" style="left:392.95px;top:524px;font-size:13px;line-height:13px;font-weight:bold;-webkit-text-stroke:0.2px currentColor;letter-spacing:0.281px;color:#0c0c00;-webkit-text-stroke:0;">editable</span>
<span class="t" style="left:16.75px;top:555px;font-size:13px;line-height:13px;font-weight:bold;-webkit-text-stroke:0.2px currentColor;transform:scaleX(0.9482);transform-origin:0 0;color:#0c0c00;-webkit-text-stroke:0;">Class-by-</span>
<span class="t" style="left:10.25px;top:573px;font-size:13px;line-height:13px;font-weight:bold;-webkit-text-stroke:0.2px currentColor;letter-spacing:-0.146px;color:#0c0c00;-webkit-text-stroke:0;">class detail</span></div>
</body></html>
